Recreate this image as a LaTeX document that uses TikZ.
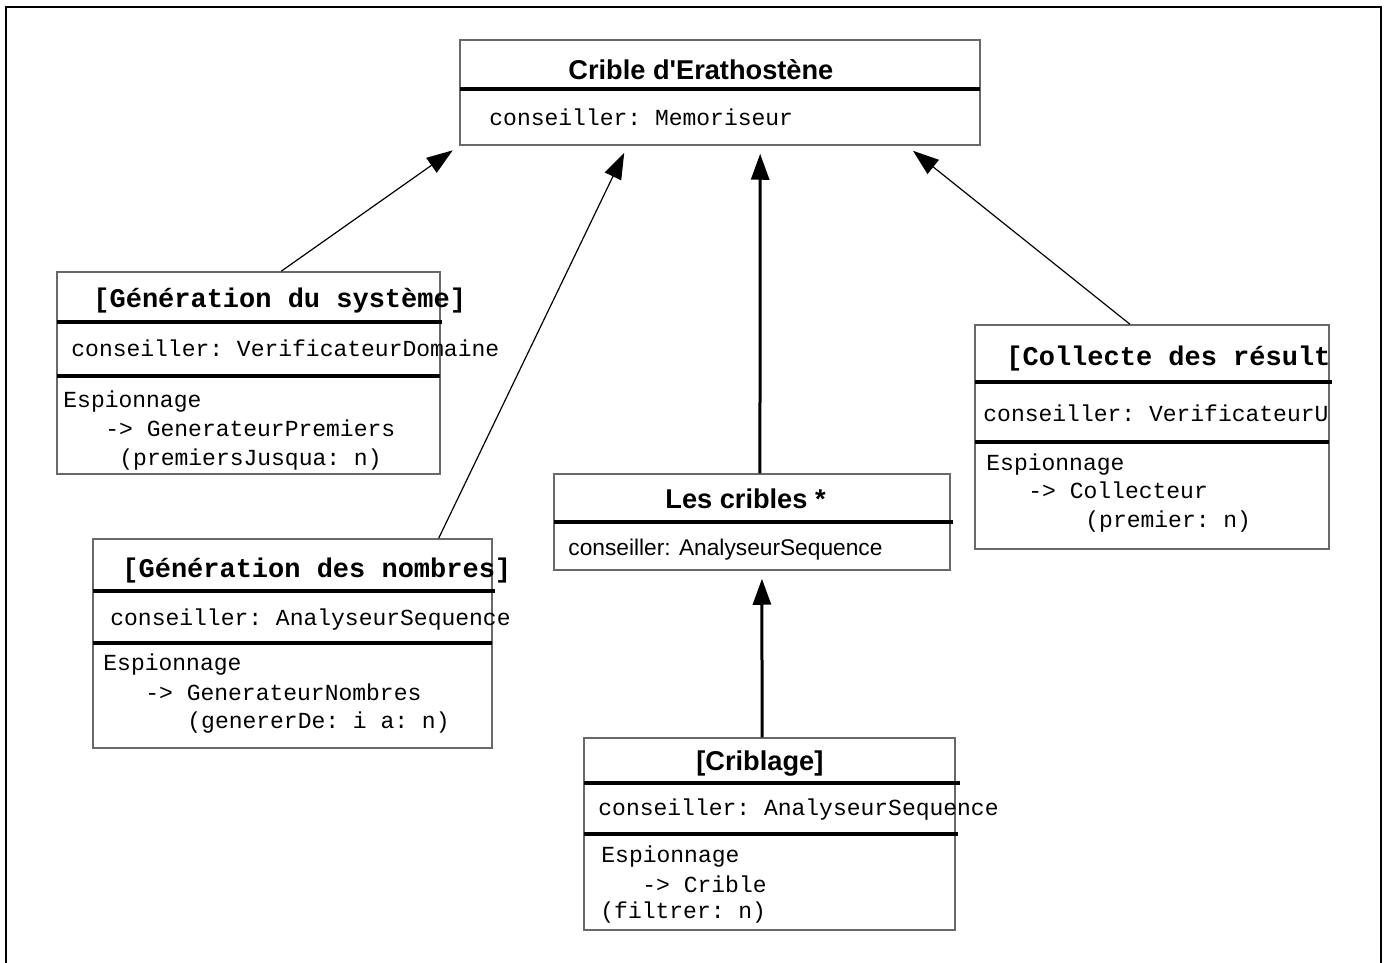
\documentclass[tikz,border=0pt]{standalone}
\usepackage{fontspec}
\setmainfont{Liberation Sans}
\setmonofont{Liberation Mono}
\usepackage{tikz}
\usetikzlibrary{arrows.meta,calc,fit}
\definecolor{boxgray}{RGB}{105,105,105}
\tikzset{
  umlbox/.style={draw=boxgray, line width=0.75pt, inner sep=0pt},
  sepline/.style={black, line width=1.6pt},
  titlesf/.style={anchor=base west, inner sep=0pt, font=\fontsize{13.6}{16}\selectfont\bfseries},
  titlett/.style={anchor=base west, inner sep=0pt, font=\fontsize{13.5}{16}\selectfont\ttfamily\bfseries},
  linett/.style={anchor=base west, inner sep=0pt, font=\fontsize{11.5}{14}\selectfont\ttfamily},
  linesf/.style={anchor=base west, inner sep=0pt, font=\fontsize{11.36}{14}\selectfont},
  genthin/.style={-{Triangle[length=13pt,width=9pt]}, line width=0.6pt, shorten >=4pt},
  genthick/.style={genthin, line width=1.5pt},
}

\begin{document}
\begin{tikzpicture}[x=0.5pt, y=-0.5pt]

  \useasboundingbox (0,0) rectangle (1389,963);

  % Frame (open at the bottom)
  \draw[line width=1.3pt] (6,963) -- (6,7) -- (1381,7) -- (1381,963);

  % Crible d'Erathostene
  \node[umlbox, fit={(460,40) (980,145)}] (crible) {};
  \node[titlesf] (crible-t) at (568,80) {Crible d\textquotesingle Erathostène};
  \draw[sepline] (460,89) -- (980,89);
  \node[linett] (crible-c) at (489,126) {conseiller: Memoriseur};

  % [Generation du systeme]
  \node[umlbox, fit={(57,272) (440,474)}] (systeme) {};
  \node[titlett] (systeme-t) at (93,307) {[Génération du système]};
  \draw[sepline] (57,322) -- (442,322);
  \node[linett] (systeme-c) at (71,357) {conseiller: VerificateurDomaine};
  \draw[sepline] (57,376) -- (440,376);
  \node[linett] (systeme-e1) at (63,408) {Espionnage};
  \node[linett] (systeme-e2) at (105,437) {-> GenerateurPremiers};
  \node[linett] (systeme-e3) at (119,466) {(premiersJusqua: n)};

  % [Generation des nombres]
  \node[umlbox, fit={(93,539) (492,748)}] (nombres) {};
  \node[titlett] (nombres-t) at (122,577) {[Génération des nombres]};
  \draw[sepline] (93,591) -- (495,591);
  \node[linett] (nombres-c) at (110,625) {conseiller: AnalyseurSequence};
  \draw[sepline] (93,643) -- (492,643);
  \node[linett] (nombres-e1) at (103,670) {Espionnage};
  \node[linett] (nombres-e2) at (145,700) {-> GenerateurNombres};
  \node[linett] (nombres-e3) at (187,728) {(genererDe: i a: n)};

  % Les cribles *
  \node[umlbox, fit={(554,474) (950,570)}] (cribles) {};
  \node[titlesf] (cribles-t) at (665,508) {Les cribles *};
  \draw[sepline] (554,522) -- (953,522);
  \node[linesf] (cribles-c) at (568,555) {conseiller: AnalyseurSequence};

  % [Criblage]
  \node[umlbox, fit={(584,738) (955,930)}] (criblage) {};
  \node[titlesf] (criblage-t) at (696,770) {[Criblage]};
  \draw[sepline] (584,783) -- (960,783);
  \node[linett] (criblage-c) at (598,815) {conseiller: AnalyseurSequence};
  \draw[sepline] (584,834) -- (958,834);
  \node[linett] (criblage-e1) at (601,862) {Espionnage};
  \node[linett] (criblage-e2) at (642,892) {-> Crible};
  \node[linett] (criblage-e3) at (600,918) {(filtrer: n)};

  % [Collecte des resultats] -- its text is cut by the box
  \node[umlbox, fit={(975,325) (1329,549)}] (collecte) {};
  \begin{scope}
    \clip (collecte.south west) rectangle (collecte.north east);
    \node[titlett] (collecte-t) at (1006,365) {[Collecte des résult};
    \node[linett] (collecte-c) at (983,421) {conseiller: VerificateurU};
  \end{scope}
  \draw[sepline] (975,382) -- (1332,382);
  \draw[sepline] (975,442) -- (1329,442);
  \node[linett] (collecte-e1) at (986,470) {Espionnage};
  \node[linett] (collecte-e2) at (1028,498) {-> Collecteur};
  \node[linett] (collecte-e3) at (1085,527) {(premier: n)};

  % Generalisations
  \draw[genthin] ($(systeme.north west)!0.585!(systeme.north east)$)
    -- (crible.south west);
  \draw[genthin] ($(nombres.north west)!0.865!(nombres.north east)$)
    -- ($(crible.south west)!0.323!(crible.south east)$);
  \draw[genthick] ($(cribles.north west)!0.52!(cribles.north east)$)
    -- ($(crible.south west)!0.577!(crible.south east)$);
  \draw[genthin] ($(collecte.north west)!0.438!(collecte.north east)$)
    -- ($(crible.south west)!0.858!(crible.south east)$);
  \draw[genthick] ($(criblage.north west)!0.48!(criblage.north east)$)
    -- ($(cribles.south west)!0.525!(cribles.south east)$);

\end{tikzpicture}
\end{document}
